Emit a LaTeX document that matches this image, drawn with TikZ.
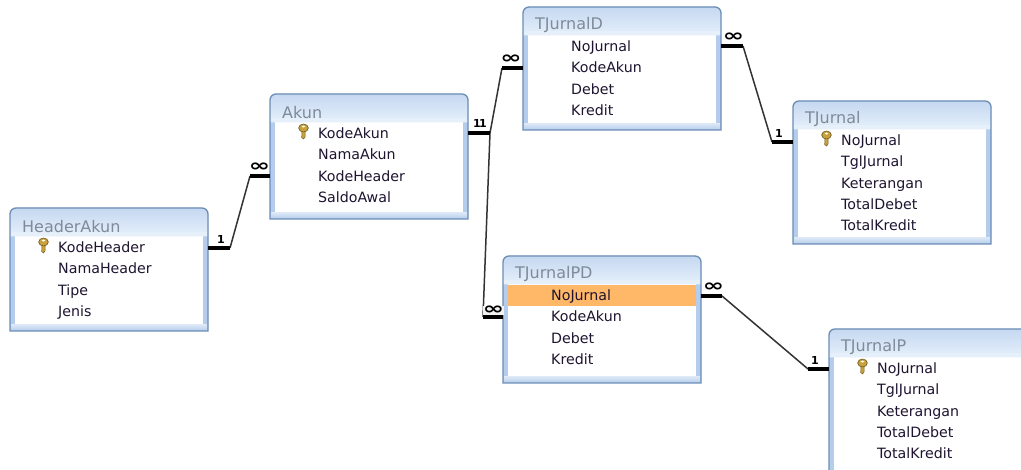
\documentclass[tikz,border=0pt]{standalone}
\usepackage{fontspec}
\setmainfont{DejaVu Sans}
\usetikzlibrary{calc}
\definecolor{frameC}{HTML}{6C8DB5}
\definecolor{bandC}{HTML}{B4CDEC}
\definecolor{titleTop}{HTML}{C5D8F1}
\definecolor{titleBot}{HTML}{E6F0FB}
\definecolor{titleTxt}{HTML}{7F8B99}
\definecolor{fieldTxt}{HTML}{1E1430}
\definecolor{hiC}{HTML}{FFB868}
\definecolor{keyC}{HTML}{C9A23C}
\definecolor{keyD}{HTML}{6E5A20}
\tikzset{
  x=1pt,y=-1pt,
  tablebox/.style={inner sep=0,outer sep=0,minimum width=#1,anchor=north west},
  tabletitle/.style={inner sep=0,anchor=west,text=titleTxt,font=\fontsize{16}{17}\selectfont},
  fieldrow/.style={inner sep=0,anchor=west,text=fieldTxt,text height=10pt,text depth=3pt,font=\fontsize{14.2}{15}\selectfont},
  linkthick/.style={line width=3.6pt,black},
  linkthin/.style={line width=1.5pt,black!80},
  cardnum/.style={inner sep=0,font=\fontsize{11}{11}\selectfont\bfseries},
  cardinf/.style={inner sep=0,font=\fontsize{17}{17}\selectfont\bfseries},
}
\newcommand{\infmark}{\scalebox{1.5}[1.0]{∞}}
% name, x, y, height, title, key?, fields
\newcommand{\erdtable}[7]{%
  \node[tablebox=198pt,minimum height=#4pt] (#1) at (#2,#3) {};
  \fill[bandC] (#1.south west) [rounded corners=6pt] -- (#1.north west) -- (#1.north east) [sharp corners] -- (#1.south east) -- cycle;
  \fill[white] ($(#1.north west)+(5,28.5)$) rectangle ($(#1.south east)+(-5,-5)$);
  \shade[top color=titleTop,bottom color=titleBot]
     ($(#1.north west)+(0,28.5)$) [rounded corners=6pt] -- (#1.north west) -- (#1.north east) [sharp corners] -- ($(#1.north east)+(0,28.5)$) -- cycle;
  \fill[titleBot] ($(#1.north west)+(0,24)$) rectangle ($(#1.north east)+(0,28.5)$);
  \shade[top color=bandC!50!white,bottom color=bandC] ($(#1.south west)+(1,-6)$) rectangle ($(#1.south east)+(-1,0)$);
  \draw[frameC,line width=1.3pt]
     (#1.south west) [rounded corners=6pt] -- (#1.north west) -- (#1.north east) [sharp corners] -- (#1.south east) -- cycle;
  \node[tabletitle] (#1-title) at ($(#1.north west)+(12,18.5)$) {#5};
  \ifnum#6=1\relax
    \path ($(#1.north west)+(33.5,35)$) pic {keyicon};
  \fi
  \foreach \t [count=\i] in {#7} {
    \node[fieldrow] (#1-\i) at ($(#1.north west)+(48,41)+(0,{(\i-1)*21.3})$) {\t};
  }
}
\tikzset{keyicon/.pic={
  \fill[keyC,draw=keyD,line width=.5pt] (-1.5,1) -- (1.5,1) -- (1.5,8) -- (0,10) -- (-1.8,8.5) -- cycle;
  \fill[keyC,draw=keyD,line width=.6pt] (0,-1) ellipse (4.8 and 4);
  \fill[white] (0,-2.4) ellipse (1.8 and 1);
}}
\begin{document}
\begin{tikzpicture}
\useasboundingbox (0,0) rectangle (1021,470);
\clip (0,0) rectangle (1021,470);
\fill[white] (0,0) rectangle (1021,470);

\erdtable{ha}{10}{208}{123}{HeaderAkun}{1}{KodeHeader,NamaHeader,Tipe,Jenis}
\erdtable{ak}{270}{94}{125}{Akun}{1}{KodeAkun,NamaAkun,KodeHeader,SaldoAwal}
\erdtable{jd}{523}{7}{123}{TJurnalD}{0}{NoJurnal,KodeAkun,Debet,Kredit}
\erdtable{tj}{793}{101}{143}{TJurnal}{1}{NoJurnal,TglJurnal,Keterangan,TotalDebet,TotalKredit}
\erdtable{pd}{503}{256}{127}{TJurnalPD}{0}{\phantom{NoJurnal},KodeAkun,Debet,Kredit}
\fill[hiC] (508,285.5) rectangle (696,306);
\node[fieldrow] (pd-h) at (pd-1.west) {NoJurnal};
\erdtable{tp}{829}{329}{150}{TJurnalP}{1}{NoJurnal,TglJurnal,Keterangan,TotalDebet,TotalKredit}

\coordinate (b1a) at (230,248);
\coordinate (b1b) at (250,176);
\coordinate (b2a) at (490,133);
\coordinate (b2b) at (502,68);
\coordinate (b3b) at (483,317);
\coordinate (b4a) at (743,46);
\coordinate (b4b) at (772,142);
\coordinate (b5a) at (722,296);
\coordinate (b5b) at (808,369);

\draw[linkthin] (b1a) -- (b1b);
\draw[linkthick] (ha.east |- b1a) -- (b1a);
\draw[linkthick] (b1b) -- (ak.west |- b1b);

\draw[linkthin] (b2a) -- (b2b);
\draw[linkthin] (b2a) -- (b3b);
\draw[linkthick] (ak.east |- b2a) -- (b2a);
\draw[linkthick] (b2b) -- (jd.west |- b2b);

\node[cardinf,fill=black!5,minimum width=19pt,minimum height=9pt] (l5) at (493.5,310.5) {\infmark};
\draw[linkthick] (b3b) -- (pd.west |- b3b);

\draw[linkthin] (b4a) -- (b4b);
\draw[linkthick] (jd.east |- b4a) -- (b4a);
\draw[linkthick] (b4b) -- (tj.west |- b4b);

\draw[linkthin] (b5a) -- (b5b);
\draw[linkthick] (pd.east |- b5a) -- (b5a);
\draw[linkthick] (b5b) -- (tp.west |- b5b);

\node[cardnum] (l1) at (221,239) {1};
\node[cardinf] (l2) at (259.5,167) {\infmark};
\node[cardnum] (l3) at (477,123.5) {1};
\node[cardnum] (l3b) at (483,123.5) {1};
\node[cardinf] (l4) at (511,59) {\infmark};
\node[cardinf] (l6) at (733.5,37) {\infmark};
\node[cardnum] (l7) at (779,133) {1};
\node[cardinf] (l8) at (713.5,287) {\infmark};
\node[cardnum] (l9) at (815,360) {1};
\end{tikzpicture}
\end{document}
